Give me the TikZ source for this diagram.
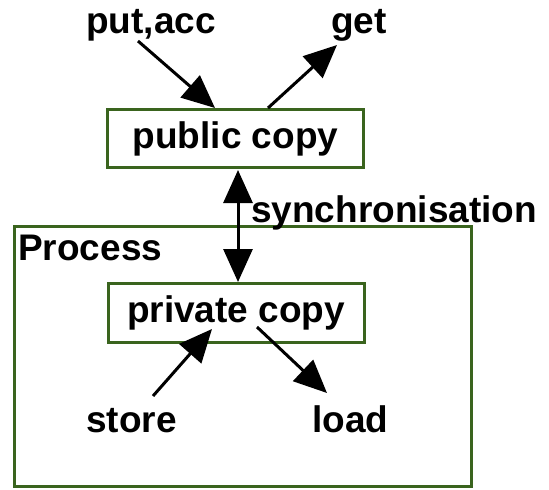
\documentclass[tikz,border=0pt]{standalone}
\usepackage{fontspec}
\setmainfont{Liberation Sans}
\usetikzlibrary{arrows.meta}
\definecolor{boxgreen}{RGB}{58,100,30}
\begin{document}
\begin{tikzpicture}[x=1pt,y=-1pt,
  lbl/.style={font=\fontsize{37}{40}\selectfont\bfseries, inner sep=0pt, anchor=base west},
  frame/.style={draw=boxgreen, line width=3pt, inner sep=0pt,
    font=\fontsize{37}{40}\selectfont\bfseries},
  bigtip/.tip={Triangle[length=33pt,width=29pt]},
  flow/.style={line width=3pt, -bigtip},
  twoway/.style={line width=3pt, bigtip-bigtip}]
\useasboundingbox (0,0) rectangle (549,490);

% the process container and its title
\node[frame, minimum width=457pt, minimum height=260pt] (process) at (242.5,356) {};
\node[lbl] (ptitle) at (18,260) {Process};

% the two copies
\node[frame, minimum width=256pt, minimum height=58pt] (pub) at (235.5,138.5) {public copy};
\node[frame, minimum width=256pt, minimum height=59pt] (priv) at (236,312.5) {private copy};

% operation labels
\node[lbl] (put) at (86,33) {put,acc};
\node[lbl] (get) at (331,33) {get};
\node[lbl] (store) at (86,432) {store};
\node[lbl] (load) at (312,432) {load};
\node[lbl] (sync) at (251,222) {synchronisation};

% arrow end points
\coordinate (putS) at (138,41);
\coordinate (putE) at (215,108);
\coordinate (getS) at (268,108);
\coordinate (getE) at (337,45);
\coordinate (syncA) at (238,170);
\coordinate (syncB) at (238,282);
\coordinate (storeS) at (153,396);
\coordinate (storeE) at (212,329);
\coordinate (loadS) at (257,327);
\coordinate (loadE) at (327,393);

% connectors
\draw[flow] (putS) -- (putE);
\draw[flow] (getS) -- (getE);
\draw[twoway] (syncA) -- (syncB);
\draw[flow] (storeS) -- (storeE);
\draw[flow] (loadS) -- (loadE);
\end{tikzpicture}
\end{document}
